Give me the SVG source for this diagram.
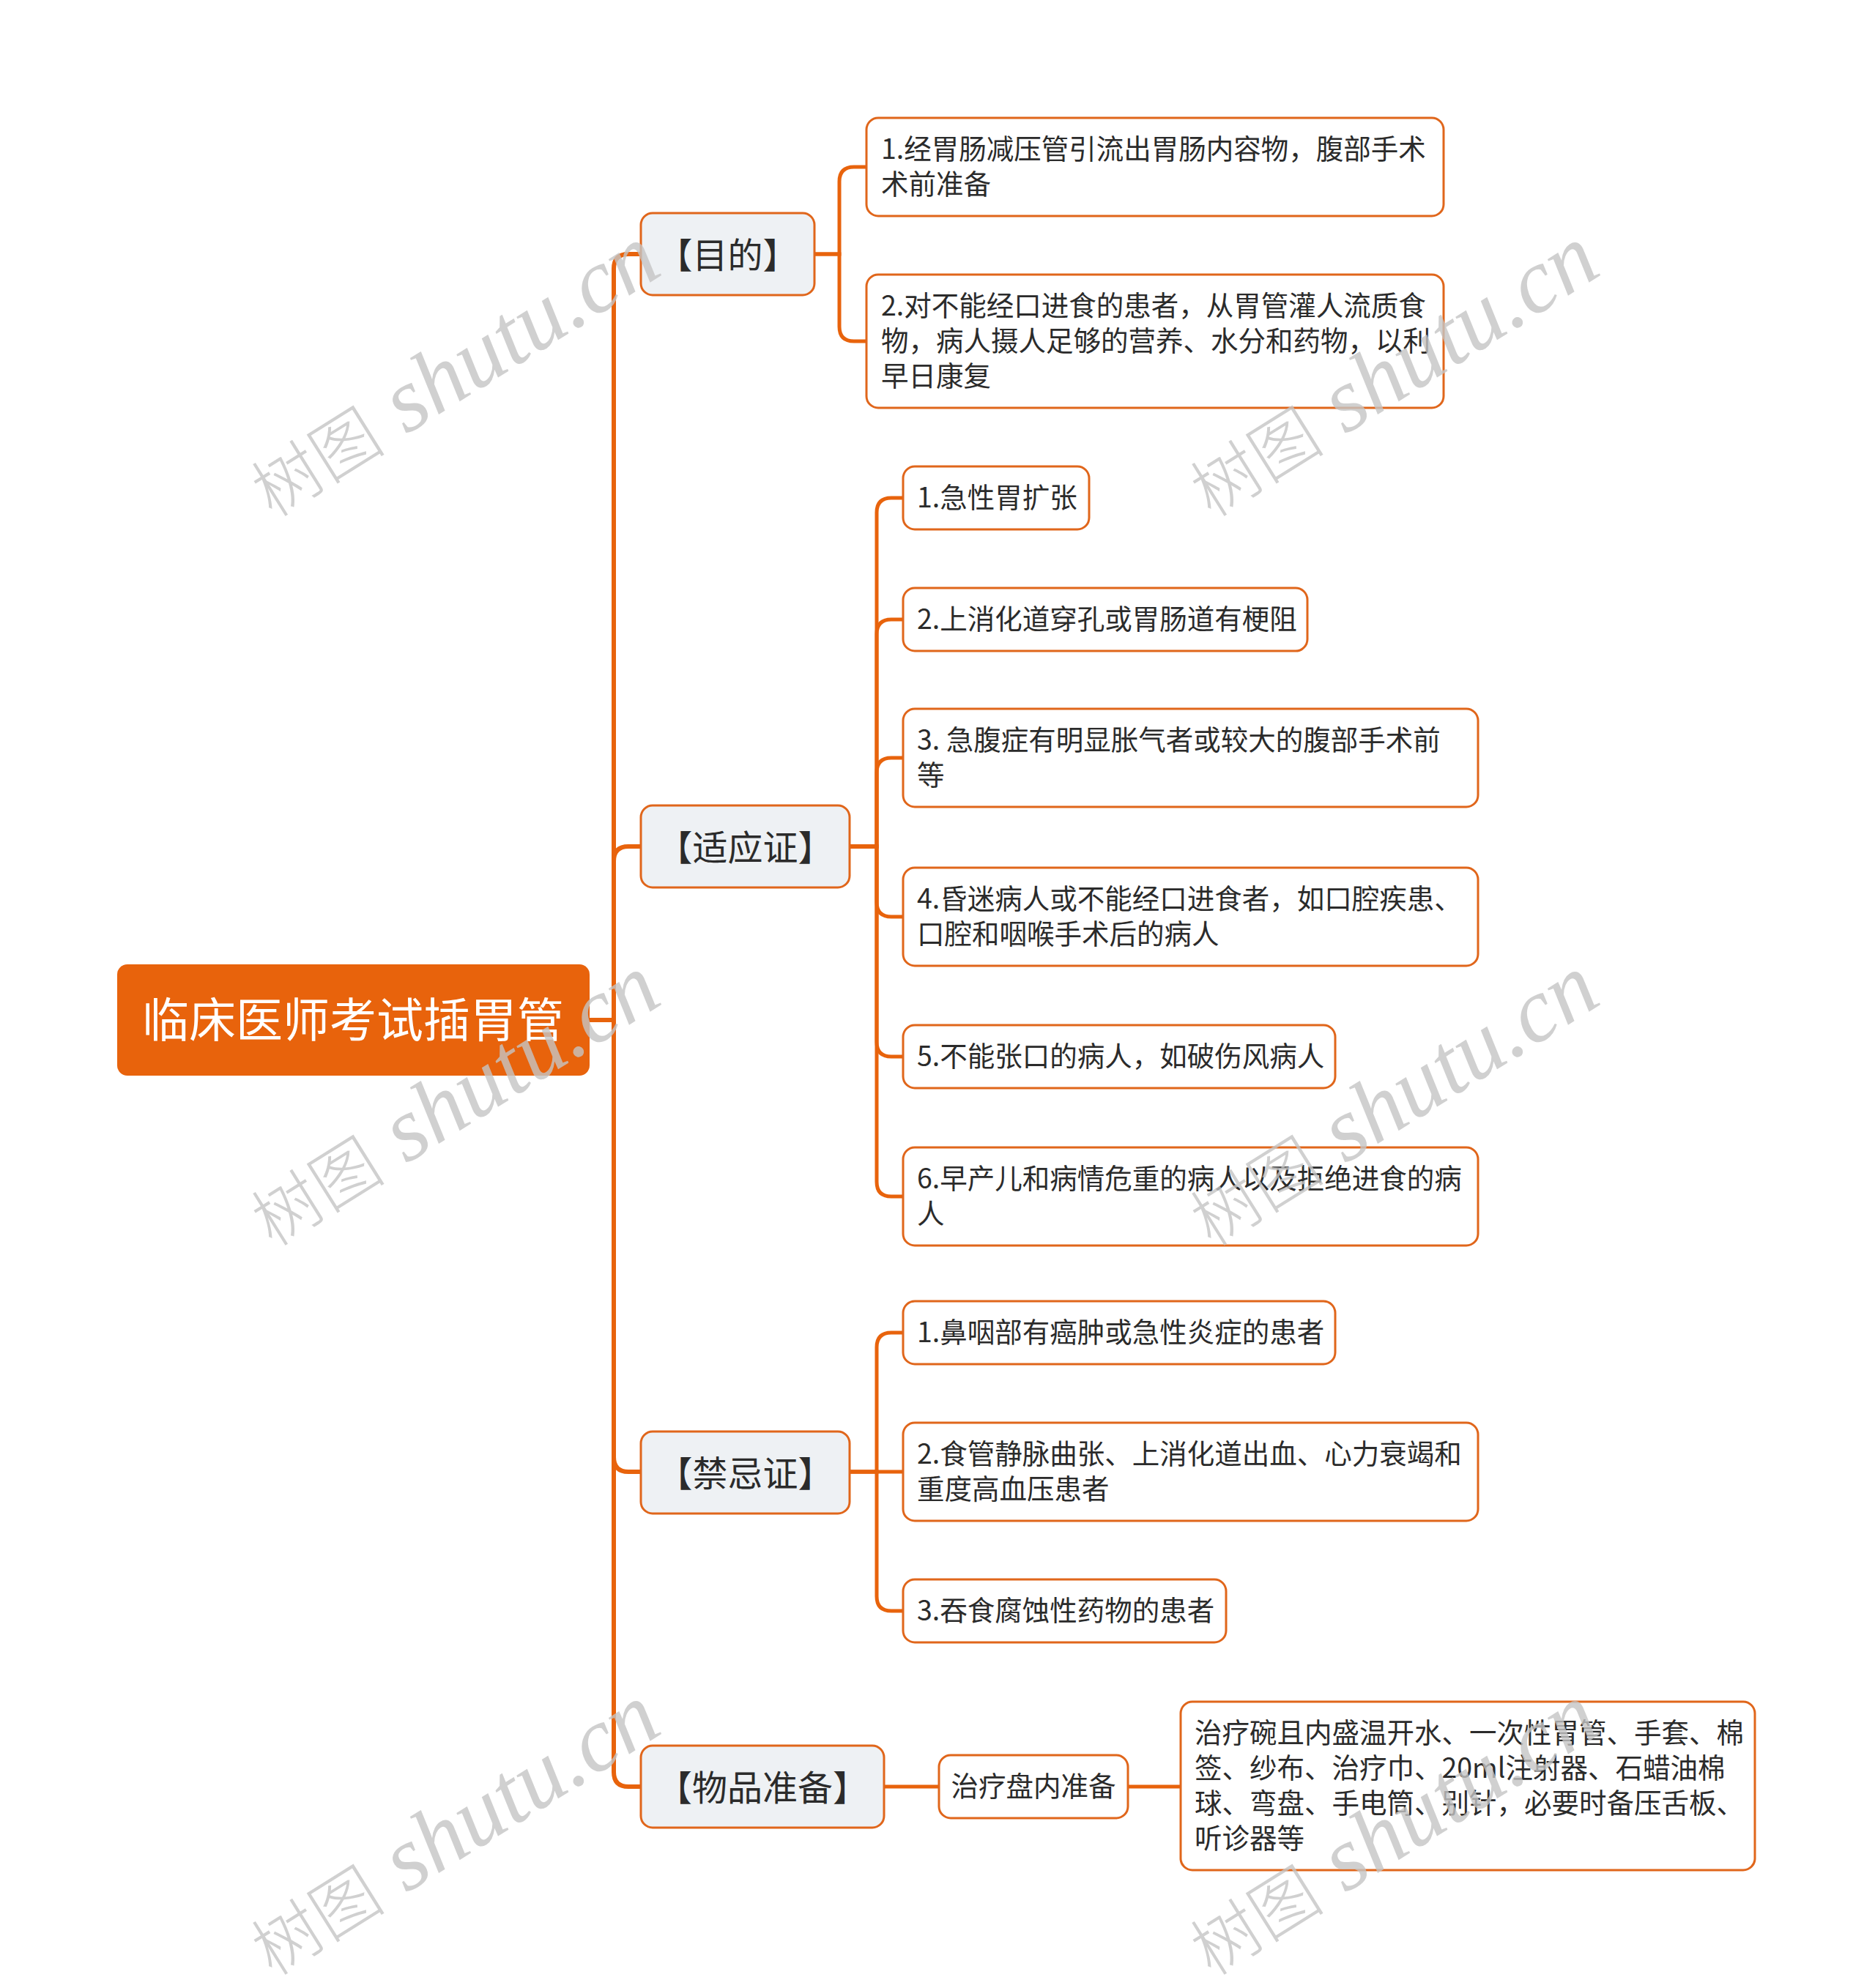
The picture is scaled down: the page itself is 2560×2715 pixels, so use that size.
<svg xmlns="http://www.w3.org/2000/svg" width="2560" height="2715" viewBox="0 0 2560 2715">
<style>
.l1 { fill: #eef1f4; stroke: #e0661b; stroke-width: 3; }
.ch { fill: #ffffff; stroke: #e0661b; stroke-width: 3; }
.t1 { font-family: "Noto Sans CJK SC", "Noto Sans", sans-serif; font-size: 48px; fill: #2b2b2b; text-anchor: middle; }
.tc { font-family: "Noto Sans CJK SC", "Noto Sans", sans-serif; font-size: 37.5px; fill: #2b2b2b; }
.c1 { fill: none; stroke: #e8630c; stroke-width: 6; }
.c2 { fill: none; stroke: #e8630c; stroke-width: 5; }
.wm { fill: #c4c4c4; fill-opacity: 0.8; }
.wmc { font-family: "Noto Sans CJK SC", sans-serif; font-size: 92px; font-weight: 300; }
.wml { font-family: "Liberation Serif", serif; font-style: italic; font-size: 124px; }
</style>
<rect width="2560" height="2715" fill="#ffffff"/>
<g id="connectors">
<path class="c1" d="M805 1393 H838 V367 Q838 347 858 347 H875"/>
<path class="c1" d="M805 1393 H838 V1176 Q838 1156 858 1156 H875"/>
<path class="c1" d="M805 1393 H838 V1990 Q838 2010 858 2010 H875"/>
<path class="c1" d="M805 1393 H838 V2420 Q838 2440 858 2440 H875"/>
<path class="c2" d="M1112 347 H1146 V248 Q1146 228 1166 228 H1183"/>
<path class="c2" d="M1112 347 H1146 V446 Q1146 466 1166 466 H1183"/>
<path class="c2" d="M1160 1156 H1197 V700 Q1197 680 1217 680 H1233"/>
<path class="c2" d="M1160 1156 H1197 V866 Q1197 846 1217 846 H1233"/>
<path class="c2" d="M1160 1156 H1197 V1055 Q1197 1035 1217 1035 H1233"/>
<path class="c2" d="M1160 1156 H1197 V1232 Q1197 1252 1217 1252 H1233"/>
<path class="c2" d="M1160 1156 H1197 V1423 Q1197 1443 1217 1443 H1233"/>
<path class="c2" d="M1160 1156 H1197 V1614 Q1197 1634 1217 1634 H1233"/>
<path class="c2" d="M1160 2010 H1197 V1840 Q1197 1820 1217 1820 H1233"/>
<path class="c2" d="M1160 2010 H1233"/>
<path class="c2" d="M1160 2010 H1197 V2180 Q1197 2200 1217 2200 H1233"/>
<path class="c2" d="M1207 2440 H1282"/>
<path class="c2" d="M1540 2440 H1612"/>
</g>
<g id="root">
<rect x="160" y="1317" width="645" height="152" rx="14" fill="#e8630c"/>
<text x="482" y="1416" font-family="Noto Sans CJK SC, sans-serif" font-size="64" fill="#ffffff" text-anchor="middle">临床医师考试插胃管</text>
</g>
<g id="n-mudi">
<rect class="l1" x="875" y="291" width="237" height="112" rx="16"/>
<text class="t1" x="993.5" y="366">【目的】</text>
</g>
<g id="n-mudi-1">
<rect class="ch" x="1183" y="161" width="788" height="134" rx="16"/>
<text class="tc" x="1203" y="217">1.经胃肠减压管引流出胃肠内容物，腹部手术<tspan x="1203" y="265">术前准备</tspan></text>
</g>
<g id="n-mudi-2">
<rect class="ch" x="1183" y="375" width="788" height="182" rx="16"/>
<text class="tc" x="1203" y="431">2.对不能经口进食的患者，从胃管灌人流质食<tspan x="1203" y="479">物，病人摄人足够的营养、水分和药物，以利</tspan><tspan x="1203" y="527">早日康复</tspan></text>
</g>
<g id="n-shiying">
<rect class="l1" x="875" y="1100" width="285" height="112" rx="16"/>
<text class="t1" x="1017.5" y="1175">【适应证】</text>
</g>
<g id="n-sy-1">
<rect class="ch" x="1233" y="637" width="254" height="86" rx="16"/>
<text class="tc" x="1252" y="693">1.急性胃扩张</text>
</g>
<g id="n-sy-2">
<rect class="ch" x="1233" y="803" width="552" height="86" rx="16"/>
<text class="tc" x="1252" y="859">2.上消化道穿孔或胃肠道有梗阻</text>
</g>
<g id="n-sy-3">
<rect class="ch" x="1233" y="968" width="785" height="134" rx="16"/>
<text class="tc" x="1252" y="1024">3. 急腹症有明显胀气者或较大的腹部手术前<tspan x="1252" y="1072">等</tspan></text>
</g>
<g id="n-sy-4">
<rect class="ch" x="1233" y="1185" width="785" height="134" rx="16"/>
<text class="tc" x="1252" y="1241">4.昏迷病人或不能经口进食者，如口腔疾患、<tspan x="1252" y="1289">口腔和咽喉手术后的病人</tspan></text>
</g>
<g id="n-sy-5">
<rect class="ch" x="1233" y="1400" width="590" height="86" rx="16"/>
<text class="tc" x="1252" y="1456">5.不能张口的病人，如破伤风病人</text>
</g>
<g id="n-sy-6">
<rect class="ch" x="1233" y="1567" width="785" height="134" rx="16"/>
<text class="tc" x="1252" y="1623">6.早产儿和病情危重的病人以及拒绝进食的病<tspan x="1252" y="1671">人</tspan></text>
</g>
<g id="n-jinji">
<rect class="l1" x="875" y="1955" width="285" height="112" rx="16"/>
<text class="t1" x="1017.5" y="2030">【禁忌证】</text>
</g>
<g id="n-jj-1">
<rect class="ch" x="1233" y="1777" width="590" height="86" rx="16"/>
<text class="tc" x="1252" y="1833">1.鼻咽部有癌肿或急性炎症的患者</text>
</g>
<g id="n-jj-2">
<rect class="ch" x="1233" y="1943" width="785" height="134" rx="16"/>
<text class="tc" x="1252" y="1999">2.食管静脉曲张、上消化道出血、心力衰竭和<tspan x="1252" y="2047">重度高血压患者</tspan></text>
</g>
<g id="n-jj-3">
<rect class="ch" x="1233" y="2157" width="441" height="86" rx="16"/>
<text class="tc" x="1252" y="2213">3.吞食腐蚀性药物的患者</text>
</g>
<g id="n-wupin">
<rect class="l1" x="875" y="2384" width="332" height="112" rx="16"/>
<text class="t1" x="1041" y="2459">【物品准备】</text>
</g>
<g id="n-wp-1">
<rect class="ch" x="1282" y="2397" width="258" height="86" rx="16"/>
<text class="tc" x="1411" y="2453" text-anchor="middle">治疗盘内准备</text>
</g>
<g id="n-wp-2">
<rect class="ch" x="1612" y="2324" width="784" height="230" rx="16"/>
<text class="tc" x="1631" y="2380">治疗碗且内盛温开水、一次性胃管、手套、棉<tspan x="1631" y="2428">签、纱布、治疗巾、20ml注射器、石蜡油棉</tspan><tspan x="1631" y="2476">球、弯盘、手电筒、别针，必要时备压舌板、</tspan><tspan x="1631" y="2524">听诊器等</tspan></text>
</g>
<g id="watermarks" class="wm">
<text transform="translate(372 708) rotate(-32)"><tspan class="wmc">树图</tspan><tspan class="wml"> shutu.cn</tspan></text>
<text transform="translate(1654 708) rotate(-32)"><tspan class="wmc">树图</tspan><tspan class="wml"> shutu.cn</tspan></text>
<text transform="translate(372 1704) rotate(-32)"><tspan class="wmc">树图</tspan><tspan class="wml"> shutu.cn</tspan></text>
<text transform="translate(1654 1704) rotate(-32)"><tspan class="wmc">树图</tspan><tspan class="wml"> shutu.cn</tspan></text>
<text transform="translate(372 2700) rotate(-32)"><tspan class="wmc">树图</tspan><tspan class="wml"> shutu.cn</tspan></text>
<text transform="translate(1654 2700) rotate(-32)"><tspan class="wmc">树图</tspan><tspan class="wml"> shutu.cn</tspan></text>
</g>
</svg>
